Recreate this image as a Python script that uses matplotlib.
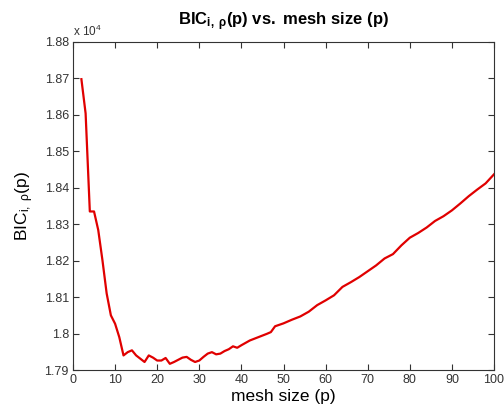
import matplotlib
matplotlib.use('Agg')
import matplotlib.pyplot as plt
from matplotlib.ticker import FuncFormatter

plt.rcParams['font.family'] = 'Liberation Sans'
plt.rcParams['mathtext.fontset'] = 'custom'
plt.rcParams['mathtext.rm'] = 'Liberation Sans'
plt.rcParams['mathtext.bf'] = 'Liberation Sans:bold'
plt.rcParams['mathtext.it'] = 'Liberation Sans'

# mesh size p and BIC values
mesh = [2, 3, 4, 5, 6, 7, 8, 9, 10, 11, 12, 13, 14, 15, 16, 17, 18, 19, 20,
        21, 22, 23, 24, 25, 26, 27, 28, 29, 30, 31, 32, 33, 34, 35, 36, 37,
        38, 39, 40, 42, 44, 46, 47, 48, 50, 52, 54, 56, 58, 60, 62, 64, 66,
        68, 70, 72, 74, 76, 78, 80, 82, 84, 86, 88, 90, 92, 94, 96, 98, 100]
bic = [18698, 18604, 18335, 18335, 18284, 18201, 18110, 18050, 18027, 17990,
       17940, 17949, 17954, 17940, 17931, 17922, 17940, 17934, 17926, 17926,
       17933, 17917, 17922, 17928, 17934, 17936, 17928, 17922, 17926, 17936,
       17945, 17949, 17943, 17945, 17952, 17957, 17965, 17961, 17968, 17981,
       17990, 17999, 18004, 18020, 18028, 18038, 18047, 18060, 18078, 18091,
       18105, 18128, 18141, 18155, 18171, 18187, 18206, 18218, 18242, 18263,
       18276, 18291, 18309, 18322, 18338, 18357, 18377, 18395, 18412, 18437]

xticks = [0, 10, 20, 30, 40, 50, 60, 70, 80, 90, 100]
yticks = [17900, 18000, 18100, 18200, 18300, 18400, 18500, 18600, 18700, 18800]

fig = plt.figure(figsize=(5.04, 4.17), dpi=100)
ax = fig.add_axes([0.1448, 0.1127, 0.8354, 0.7866])

ax.plot(mesh, bic, color='#e00000', linewidth=1.6)

ax.set_xlim(0, 100)
ax.set_ylim(17900, 18800)
ax.set_xticks(xticks)
ax.set_yticks(yticks)
ax.yaxis.set_major_formatter(FuncFormatter(lambda v, pos: '%g' % round(v / 1e4, 3)))
ax.tick_params(direction='in', top=True, right=True, labelsize=9, length=4,
               colors='#333333', pad=3)
for s in ax.spines.values():
    s.set_color('#333333')
    s.set_linewidth(0.8)

ax.text(0.0, 1.01, r'x 10$^4$', transform=ax.transAxes, fontsize=8.5,
        color='#333333', ha='left', va='bottom')

ax.set_title(r'$\mathbf{BIC_{i,\ \rho}(p)\ vs.\ mesh\ size\ (p)}$', fontsize=12, pad=12)
ax.set_xlabel('mesh size (p)', fontsize=12.5, labelpad=2)
ax.set_ylabel(r'BIC$_{\mathregular{i,\ \rho}}$(p)', fontsize=12.5, labelpad=6)

fig.savefig('out.png', dpi=100)
